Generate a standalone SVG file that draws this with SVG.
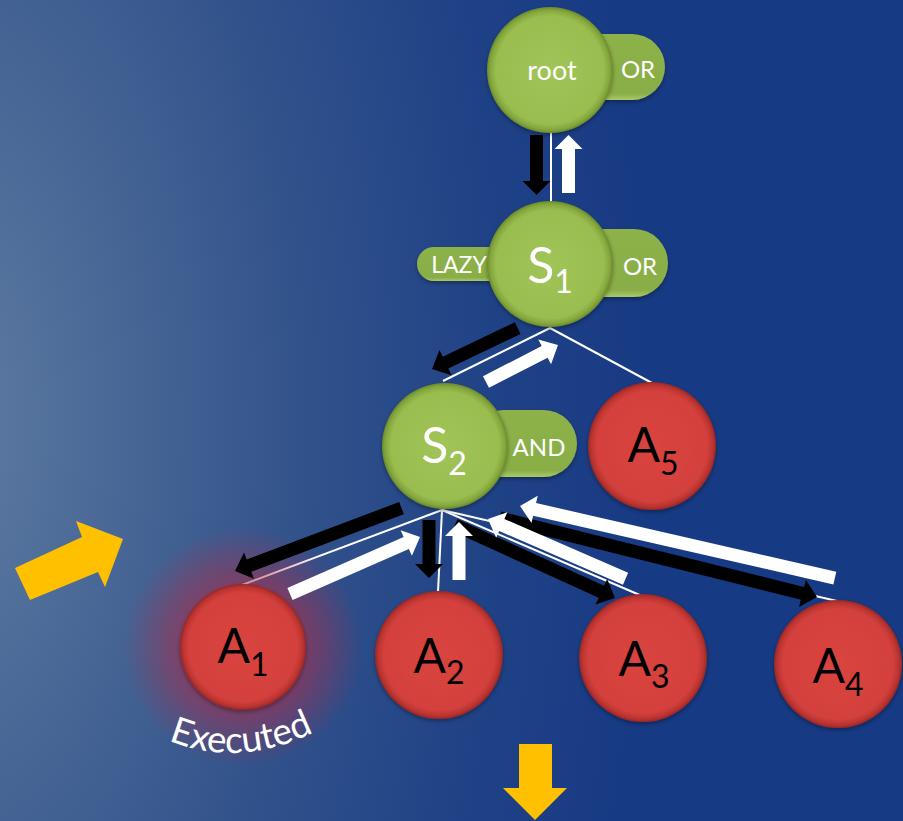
<svg xmlns="http://www.w3.org/2000/svg" width="903" height="821" viewBox="0 0 903 821">
<defs>
<radialGradient id="bg" gradientUnits="userSpaceOnUse" cx="0" cy="0" r="700" gradientTransform="translate(-50,420) scale(1,2)">
<stop offset="0" stop-color="#5e7ca1"/>
<stop offset="0.5" stop-color="#32528b"/>
<stop offset="0.8" stop-color="#1e4186"/>
<stop offset="1" stop-color="#173a84"/>
</radialGradient>
<radialGradient id="gG" cx="0.5" cy="0.5" r="0.5">
<stop offset="0" stop-color="#a0c456"/>
<stop offset="0.86" stop-color="#99bd4f"/>
<stop offset="0.95" stop-color="#84a63d"/>
<stop offset="1" stop-color="#6a8a2c"/>
</radialGradient>
<radialGradient id="gR" cx="0.5" cy="0.5" r="0.5">
<stop offset="0" stop-color="#d9443f"/>
<stop offset="0.86" stop-color="#d4413d"/>
<stop offset="0.95" stop-color="#bb3430"/>
<stop offset="1" stop-color="#982725"/>
</radialGradient>
<linearGradient id="pill" x1="0" y1="0" x2="0" y2="1">
<stop offset="0" stop-color="#8db24a"/>
<stop offset="0.9" stop-color="#8aae46"/>
<stop offset="1" stop-color="#a9ca6c"/>
</linearGradient>
<radialGradient id="glow" cx="0.5" cy="0.5" r="0.5">
<stop offset="0" stop-color="#b82a44" stop-opacity="0.7"/>
<stop offset="0.55" stop-color="#b82a44" stop-opacity="0.5"/>
<stop offset="0.8" stop-color="#b82a44" stop-opacity="0.22"/>
<stop offset="1" stop-color="#b82a44" stop-opacity="0"/>
</radialGradient>
<filter id="sh" x="-20%" y="-20%" width="140%" height="140%">
<feDropShadow dx="0" dy="2" stdDeviation="2" flood-color="#000" flood-opacity="0.35"/>
</filter>
<path id="execPath" d="M 158,736 Q 238,774 324,727"/>
</defs>
<style>
.lbl{font-family:Lato,"Noto Sans",sans-serif;fill:#fff;text-anchor:middle}
.alb{font-family:Lato,"Noto Sans",sans-serif;fill:#000;text-anchor:middle}
.conn{stroke:#fff;stroke-width:2;fill:none}
.blk{fill:#000}
.wht{fill:#fff}
.gc{fill:url(#gG);filter:url(#sh)}
.rc{fill:url(#gR);filter:url(#sh)}
.pl{fill:url(#pill);filter:url(#sh)}
.orng{fill:#ffc000}
</style>
<rect x="0" y="0" width="903" height="821" fill="url(#bg)"/>

<g id="connectors">
<line class="conn" x1="551" y1="130" x2="551" y2="204"/>
<line class="conn" x1="550" y1="328" x2="443" y2="381"/>
<line class="conn" x1="550" y1="328" x2="652" y2="383"/>
<line class="conn" x1="442" y1="510" x2="242" y2="585"/>
<line class="conn" x1="442" y1="510" x2="438" y2="592"/>
<line class="conn" x1="442" y1="510" x2="642" y2="596"/>
<line class="conn" x1="442" y1="510" x2="837" y2="601"/>
</g>

<circle id="glowA1" cx="243" cy="647" r="120" fill="url(#glow)"/>

<g id="flow-arrows">
<polygon class="blk" transform="translate(536.5,195) rotate(90)" points="-60,-6.5 -14,-6.5 -14,-14 0,0 -14,14 -14,6.5 -60,6.5"/>
<polygon class="wht" transform="translate(568.5,135) rotate(-90)" points="-58,-6.5 -14,-6.5 -14,-14 0,0 -14,14 -14,6.5 -58,6.5"/>
<polygon class="blk" transform="translate(432,369) rotate(154.5)" points="-95,-6.5 -15,-6.5 -15,-14 0,0 -15,14 -15,6.5 -95,6.5"/>
<polygon class="wht" transform="translate(558,345) rotate(-27.2)" points="-81,-6.5 -15,-6.5 -15,-14 0,0 -15,14 -15,6.5 -81,6.5"/>
<polygon class="blk" transform="translate(235,571) rotate(159.3)" points="-178,-6.5 -15,-6.5 -15,-14 0,0 -15,14 -15,6.5 -178,6.5"/>
<polygon class="blk" transform="translate(429,578) rotate(90)" points="-58,-6.5 -14,-6.5 -14,-14 0,0 -14,14 -14,6.5 -58,6.5"/>
<polygon class="blk" transform="translate(615,598) rotate(24.5)" points="-176,-6.5 -15,-6.5 -15,-14 0,0 -15,14 -15,6.5 -176,6.5"/>
<polygon class="blk" transform="translate(817,597) rotate(14)" points="-327,-6.5 -15,-6.5 -15,-14 0,0 -15,14 -15,6.5 -327,6.5"/>
<polygon class="wht" transform="translate(420,537) rotate(-23.7)" points="-142,-6.5 -15,-6.5 -15,-14 0,0 -15,14 -15,6.5 -142,6.5"/>
<polygon class="wht" transform="translate(459,522) rotate(-90)" points="-58,-6.5 -14,-6.5 -14,-14 0,0 -14,14 -14,6.5 -58,6.5"/>
<polygon class="wht" transform="translate(488,519) rotate(203.5)" points="-150,-6.5 -15,-6.5 -15,-14 0,0 -15,14 -15,6.5 -150,6.5"/>
<polygon class="wht" transform="translate(520,506) rotate(192.9)" points="-323,-6.5 -15,-6.5 -15,-14 0,0 -15,14 -15,6.5 -323,6.5"/>
</g>

<g id="root">
<rect class="pl" x="560" y="34" width="105" height="66" rx="33"/>
<text class="lbl" x="638" y="78" font-size="24">OR</text>
<circle class="gc" cx="550" cy="70" r="63"/>
<text class="lbl" x="552" y="80" font-size="27">root</text>
</g>

<g id="S1">
<rect class="pl" x="417" y="247" width="110" height="34" rx="17"/>
<text class="lbl" x="459" y="273" font-size="23">LAZY</text>
<rect class="pl" x="565" y="229" width="103" height="68" rx="34"/>
<text class="lbl" x="640" y="275" font-size="24">OR</text>
<circle class="gc" cx="550" cy="264" r="63"/>
<text class="lbl" x="550" y="283" font-size="50">S<tspan font-size="32" dy="10">1</tspan></text>
</g>

<g id="S2">
<rect class="pl" x="470" y="410" width="107" height="67" rx="33.5"/>
<text class="lbl" x="539" y="456" font-size="24">AND</text>
<circle class="gc" cx="445" cy="446" r="63"/>
<text class="lbl" x="444" y="463" font-size="50">S<tspan font-size="32" dy="12">2</tspan></text>
</g>

<g id="A5">
<circle class="rc" cx="652" cy="446" r="64"/>
<text class="alb" x="653" y="462" font-size="48">A<tspan font-size="32" dy="13">5</tspan></text>
</g>

<g id="A1">
<circle class="rc" cx="243" cy="647" r="63"/>
<text class="alb" x="243" y="663" font-size="48">A<tspan font-size="32" dy="13">1</tspan></text>
<text font-family="Lato,'Noto Sans',sans-serif" font-size="37" fill="#fff" text-anchor="middle"><textPath href="#execPath" startOffset="50%">Executed</textPath></text>
</g>

<g id="A2">
<circle class="rc" cx="439" cy="655" r="64"/>
<text class="alb" x="439" y="673" font-size="48">A<tspan font-size="32" dy="11">2</tspan></text>
</g>

<g id="A3">
<circle class="rc" cx="643" cy="658" r="64"/>
<text class="alb" x="644" y="676" font-size="48">A<tspan font-size="32" dy="12">3</tspan></text>
</g>

<g id="A4">
<circle class="rc" cx="838" cy="664" r="64"/>
<text class="alb" x="838" y="683" font-size="48">A<tspan font-size="32" dy="13">4</tspan></text>
</g>

<g id="orange-arrows">
<polygon class="orng" points="15,568 30,600 98,572 105,587 123,539 76,521 82,537"/>
<polygon class="orng" points="519,744 552,744 552,788 567,788 535,820 503,788 519,788"/>
</g>
</svg>
